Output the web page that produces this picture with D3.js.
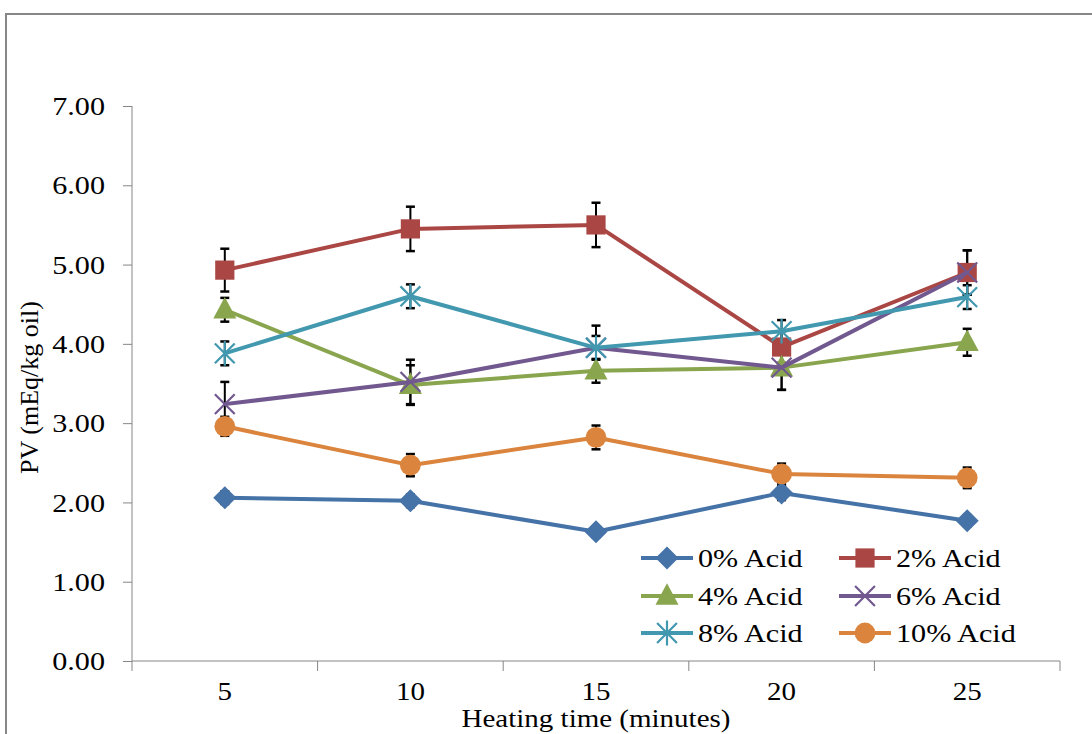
<!DOCTYPE html>
<html><head><meta charset="utf-8">
<script src="https://cdn.jsdelivr.net/npm/d3@7"></script>
<style>
html,body{margin:0;padding:0;background:#fff;}
svg text{font-family:"Liberation Serif","Times New Roman",serif;}
</style></head>
<body>
<svg id="chart" width="1092" height="734"></svg>
<script>
const categories = ["5","10","15","20","25"];
const seriesNames = ["0% Acid","2% Acid","4% Acid","6% Acid","8% Acid","10% Acid"];
const acid0  = [2.06, 2.02, 1.63, 2.12, 1.77];
const acid2  = [4.93, 5.45, 5.50, 3.96, 4.90];
const acid4  = [4.43, 3.48, 3.66, 3.70, 4.02];
const acid6  = [3.24, 3.52, 3.95, 3.70, 4.90];
const acid8  = [3.88, 4.60, 3.95, 4.16, 4.59];
const acid10 = [2.96, 2.47, 2.82, 2.36, 2.31];
const err0  = [0.08, 0.08, 0.07, 0.09, 0.07];
const err2  = [0.27, 0.28, 0.28, 0.20, 0.28];
const err4  = [0.15, 0.25, 0.15, 0.28, 0.17];
const err6  = [0.28, 0.28, 0.28, 0.28, 0.28];
const err8  = [0.15, 0.15, 0.15, 0.14, 0.15];
const err10 = [0.12, 0.14, 0.15, 0.13, 0.13];
const yTicks = [0,1,2,3,4,5,6,7];
const yLabel = "PV (mEq/kg oil)";
const xLabel = "Heating time (minutes)";

const colors = ["#4572A7","#AA4643","#89A54E","#71588F","#4198AF","#DB843D"];
const markers = ["diamond","square","triangle","x","star","circle"];
const values = [acid0, acid2, acid4, acid6, acid8, acid10];
const errors = [err0, err2, err4, err6, err8, err10];

const SX = 1.16; // horizontal text stretch
const svg = d3.select("#chart");
const L = 132, R = 1060, T = 106, B = 661;

// frame
svg.append("rect").attr("x",6).attr("y",14).attr("width",1200).attr("height",1000)
  .attr("fill","none").attr("stroke","#878787").attr("stroke-width",2);

const x = d3.scaleBand().domain(categories).range([L,R]);
const y = d3.scaleLinear().domain([0,7]).range([B,T]);

// y axis
const yAxis = svg.append("g").attr("transform",`translate(${L},0)`)
  .call(d3.axisLeft(y).tickValues(yTicks).tickFormat(d3.format(".2f")).tickSizeOuter(0).tickSizeInner(9));
yAxis.selectAll("path,line").attr("stroke","#868686").attr("stroke-width",1);
yAxis.select(".domain").attr("d",`M0,${T}V${B}`);
yAxis.selectAll("text").attr("font-size",26).attr("fill","#000")
  .attr("font-family","Liberation Serif")
  .attr("x",-27/SX).attr("dy","0.33em")
  .attr("transform",`scale(${SX},1)`);

// x axis
const xAxis = svg.append("g").attr("transform",`translate(0,${B})`)
  .call(d3.axisBottom(x).tickSize(0).tickSizeOuter(0));
xAxis.select(".domain").attr("stroke","#868686").attr("d",`M${L},0H${R}`);
xAxis.selectAll("line").remove();
xAxis.selectAll("text").attr("font-size",25).attr("fill","#000")
  .attr("font-family","Liberation Serif")
  .attr("y",39).attr("dy",0)
  .attr("transform",`scale(${SX},1)`);
// boundary ticks
const bounds = categories.map(c=>x(c)).concat([R]);
xAxis.selectAll("line.bnd").data(bounds).join("line").attr("class","bnd")
  .attr("x1",d=>d).attr("x2",d=>d).attr("y1",0).attr("y2",10)
  .attr("stroke","#868686");

// axis titles
svg.append("text").attr("transform",`translate(38,${(T+B)/2+4}) rotate(-90)`)
  .attr("text-anchor","middle").attr("font-size",26).text(yLabel);
svg.append("text").attr("transform",`translate(${(L+R)/2},727) scale(${SX},1)`)
  .attr("text-anchor","middle").attr("font-size",25).text(xLabel);

const cx = c => x(c) + x.bandwidth()/2;

function drawMarker(g, type, color, size){
  const s = size;
  if(type==="diamond"){
    g.append("path").attr("d",`M0,${-s*0.72}L${s*0.72},0L0,${s*0.72}L${-s*0.72},0Z`).attr("fill",color);
  } else if(type==="square"){
    g.append("rect").attr("x",-s*0.6).attr("y",-s*0.6).attr("width",s*1.2).attr("height",s*1.2).attr("fill",color);
  } else if(type==="triangle"){
    g.append("path").attr("d",`M0,${-s*0.8}L${s*0.72},${s*0.55}L${-s*0.72},${s*0.55}Z`).attr("fill",color);
  } else if(type==="circle"){
    g.append("circle").attr("r",s*0.65).attr("fill",color);
  } else if(type==="x"){
    const a = s*0.62;
    g.append("path").attr("d",`M${-a},${-a}L${a},${a}M${-a},${a}L${a},${-a}`).attr("stroke",color).attr("stroke-width",2.2);
  } else if(type==="star"){
    const a = s*0.62;
    g.append("path").attr("d",`M${-a},${-a}L${a},${a}M${-a},${a}L${a},${-a}M0,${-a*1.25}V${a*1.25}`).attr("stroke",color).attr("stroke-width",2.2);
  }
}

// error bars
values.forEach((vals,si)=>{
  const g = svg.append("g");
  vals.forEach((v,i)=>{
    const e = errors[si][i];
    const px = cx(categories[i]);
    g.append("line").attr("x1",px).attr("x2",px).attr("y1",y(v+e)).attr("y2",y(v-e)).attr("stroke","#000").attr("stroke-width",2);
    [v+e, v-e].forEach(w=>{
      g.append("line").attr("x1",px-4.5).attr("x2",px+4.5).attr("y1",y(w)).attr("y2",y(w)).attr("stroke","#000").attr("stroke-width",2.5);
    });
  });
});

// lines & markers
const line = d3.line().x((d,i)=>cx(categories[i])).y(d=>y(d));
values.forEach((vals,si)=>{
  svg.append("path").datum(vals).attr("d",line).attr("fill","none")
    .attr("stroke",colors[si]).attr("stroke-width",4).attr("stroke-linejoin","round");
  vals.forEach((v,i)=>{
    const g = svg.append("g").attr("transform",`translate(${cx(categories[i])},${y(v)})`);
    drawMarker(g, markers[si], colors[si], 16);
  });
});

// legend
const legX = [641, 839], legY = [558, 596, 633];
seriesNames.forEach((name,si)=>{
  const col = si%2, row = Math.floor(si/2);
  const g = svg.append("g").attr("transform",`translate(${legX[col]},${legY[row]})`);
  g.append("line").attr("x1",0).attr("x2",52).attr("y1",0).attr("y2",0).attr("stroke",colors[si]).attr("stroke-width",4);
  const m = g.append("g").attr("transform","translate(26,0)");
  drawMarker(m, markers[si], colors[si], 16);
  g.append("text").attr("transform",`translate(57,9) scale(${SX},1)`)
    .attr("font-size",26).attr("fill","#000").text(name);
});
</script>
</body></html>
